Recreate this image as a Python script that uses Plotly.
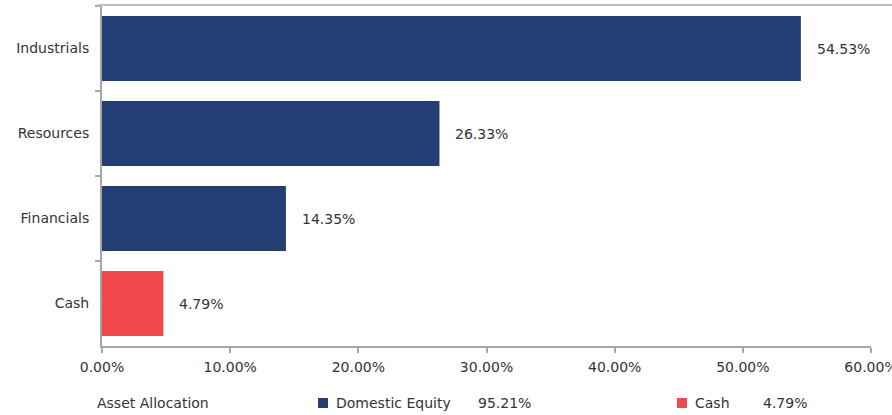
import plotly.graph_objects as go

categories = ["Industrials", "Resources", "Financials", "Cash"]
equity_cats = ["Industrials", "Resources", "Financials"]
equity_vals = [0.5453, 0.2633, 0.1435]
cash_cats = ["Cash"]
cash_vals = [0.0479]
x_ticks = [0, 0.1, 0.2, 0.3, 0.4, 0.5, 0.6]
legend_title = "Asset Allocation"
legend_items = [("Domestic Equity", "95.21%"), ("Cash", "4.79%")]

NAVY = "#243f73"
RED = "#f04a4c"
FONT = "'DejaVu Sans', sans-serif"
FS = 14
TXT = "#333333"

W, H = 892, 415
ML, MR, MT, MB = 102, 21, 6, 69
PW = W - ML - MR
PH = H - MT - MB

def px_x(p):
    return (p - ML) / PW

def px_y(p):
    return (H - MB - p) / PH

fig = go.Figure()
fig.add_trace(go.Bar(y=equity_cats, x=equity_vals, orientation="h",
                     marker=dict(color=NAVY, line=dict(width=0)), width=0.766,
                     name="Domestic Equity", hoverinfo="x+y"))
fig.add_trace(go.Bar(y=cash_cats, x=cash_vals, orientation="h",
                     marker=dict(color=RED, line=dict(width=0)), width=0.766,
                     name="Cash", hoverinfo="x+y"))

annotations = []
for c, v in list(zip(equity_cats, equity_vals)) + list(zip(cash_cats, cash_vals)):
    annotations.append(dict(x=v, y=c, xref="x", yref="y", text=f"{v*100:.2f}%",
                            showarrow=False, xanchor="left", xshift=14,
                            font=dict(family=FONT, size=FS, color=TXT)))

ly = px_y(403)
annotations.append(dict(x=px_x(95), y=ly, xref="paper", yref="paper", text=legend_title,
                        showarrow=False, xanchor="left", yanchor="middle",
                        font=dict(family=FONT, size=FS, color=TXT)))
shapes = []
item_pos = [(318, 334, 476, NAVY), (677, 693, 761, RED)]
for (name, pct), (sx, nx, vx, col) in zip(legend_items, item_pos):
    shapes.append(dict(type="rect", xref="paper", yref="paper",
                       x0=px_x(sx), x1=px_x(sx + 10), y0=px_y(408), y1=px_y(398),
                       fillcolor=col, line=dict(width=0)))
    annotations.append(dict(x=px_x(nx), y=ly, xref="paper", yref="paper", text=name,
                            showarrow=False, xanchor="left", yanchor="middle",
                            font=dict(family=FONT, size=FS, color=TXT)))
    annotations.append(dict(x=px_x(vx), y=ly, xref="paper", yref="paper", text=pct,
                            showarrow=False, xanchor="left", yanchor="middle",
                            font=dict(family=FONT, size=FS, color=TXT)))

# top border line
shapes.append(dict(type="line", xref="paper", yref="paper", x0=px_x(97), x1=1.05,
                   y0=px_y(5), y1=px_y(5), line=dict(color="#c0c0c0", width=2)))

fig.update_layout(
    width=W, height=H,
    margin=dict(l=ML, r=MR, t=MT, b=MB, autoexpand=False),
    paper_bgcolor="white", plot_bgcolor="white",
    barmode="relative", showlegend=False,
    annotations=annotations, shapes=shapes,
    font=dict(family=FONT, size=FS, color=TXT),
)
fig.update_xaxes(range=[0, 0.6], tickvals=x_ticks, tickformat=".2%",
                 showgrid=False, zeroline=False, showline=True, linecolor="#a6a6a6",
                 linewidth=2, ticks="outside", ticklen=5, tickcolor="#a6a6a6",
                 tickwidth=2, ticklabelstandoff=2, automargin=False,
                 ticklabeloverflow="allow",
                 tickfont=dict(family=FONT, size=FS, color=TXT))
fig.update_yaxes(categoryorder="array", categoryarray=categories, autorange="reversed",
                 tickson="boundaries", showgrid=False, zeroline=False, showline=True,
                 linecolor="#a6a6a6", linewidth=2, ticks="outside", ticklen=5,
                 tickcolor="#a6a6a6", tickwidth=2, ticklabelstandoff=8, automargin=False,
                 tickfont=dict(family=FONT, size=FS, color=TXT))

fig.write_html("out.html", config={"displayModeBar": False},
               post_script="document.body.style.margin='0';document.body.style.overflow='hidden';")
